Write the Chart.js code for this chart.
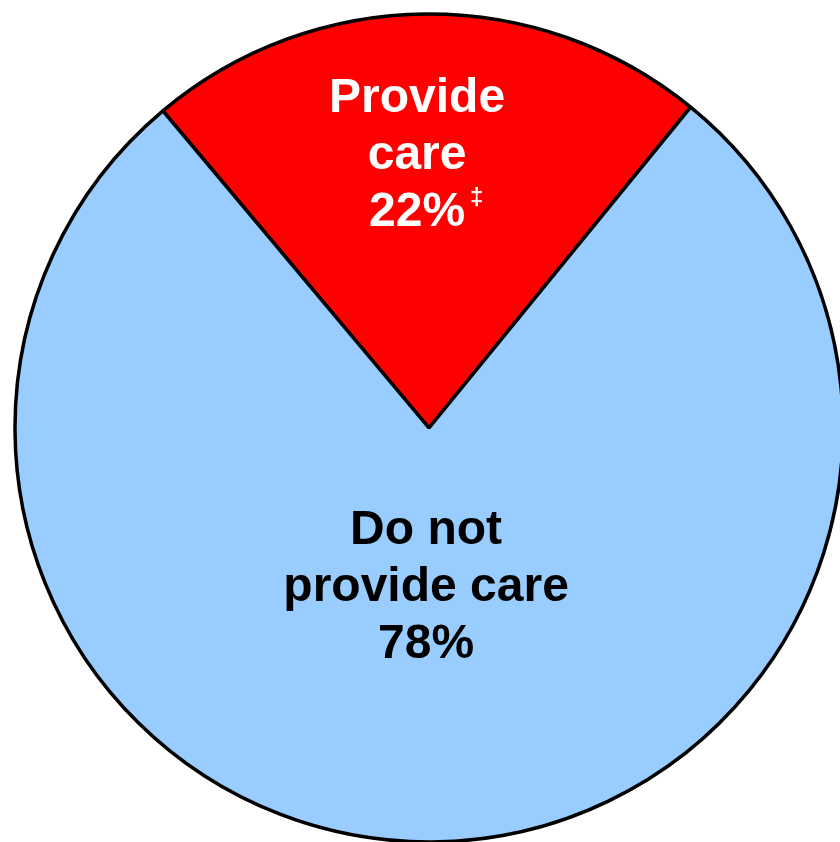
<!DOCTYPE html>
<html>
<head>
<meta charset="utf-8">
<script src="https://cdn.jsdelivr.net/npm/chart.js@4/dist/chart.umd.min.js"></script>
<style>
html,body{margin:0;padding:0;background:#fff;}
#wrap{width:840px;height:842px;position:relative;}
</style>
</head>
<body>
<div id="wrap"><canvas id="c" width="840" height="842"></canvas></div>
<script>
const categories = ["Provide care", "Do not provide care"];
const values = [22, 78];
const labelLines = [["Provide", "care", "22%"], ["Do not", "provide care", "78%"]];
const footnoteMark = "\u2021";
const colors = ["#FF0000", "#99CCFF"];
const textColors = ["#FFFFFF", "#000000"];

const labelPlugin = {
  id: 'sliceLabels',
  afterDatasetsDraw(chart) {
    const ctx = chart.ctx;
    const meta = chart.getDatasetMeta(0);
    ctx.save();
    ctx.font = 'bold 48px "Liberation Sans", Arial, sans-serif';
    ctx.textAlign = 'center';
    ctx.textBaseline = 'alphabetic';
    meta.data.forEach((arc, i) => {
      const cx = arc.x, cy = arc.y, r = arc.outerRadius;
      const mid = (arc.startAngle + arc.endAngle) / 2;
      const lines = labelLines[i];
      let dist, xShift;
      if (i === 0) { dist = r * 0.667; xShift = -10; }
      else { dist = r * 0.377; xShift = -4; }
      const lx = cx + Math.cos(mid) * dist + xShift;
      const ly = cy + Math.sin(mid) * dist;
      const lh = 57;
      const startY = ly - lh * (lines.length - 1) / 2 + 17;
      ctx.fillStyle = textColors[i];
      lines.forEach((t, k) => {
        ctx.fillText(t, lx, startY + k * lh);
      });
      if (i === 0) {
        const lastY = startY + 2 * lh;
        const w = ctx.measureText(lines[2]).width;
        ctx.save();
        ctx.font = 'bold 24px "Liberation Sans", Arial, sans-serif';
        ctx.textAlign = 'left';
        ctx.fillText(footnoteMark, lx + w / 2 + 5, lastY - 21);
        ctx.restore();
      }
    });
    ctx.restore();
  }
};

new Chart(document.getElementById('c'), {
  type: 'pie',
  data: {
    labels: categories,
    datasets: [{
      data: values,
      backgroundColor: colors,
      borderColor: '#000000',
      borderWidth: 3.5,
      borderAlign: 'center',
      clip: false
    }]
  },
  options: {
    responsive: false,
    animation: false,
    rotation: -40,
    radius: 414,
    layout: { padding: { left: 18, right: 0, top: 14, bottom: 0 } },
    plugins: {
      legend: { display: false },
      tooltip: { enabled: false }
    }
  },
  plugins: [labelPlugin]
});
</script>
</body>
</html>
